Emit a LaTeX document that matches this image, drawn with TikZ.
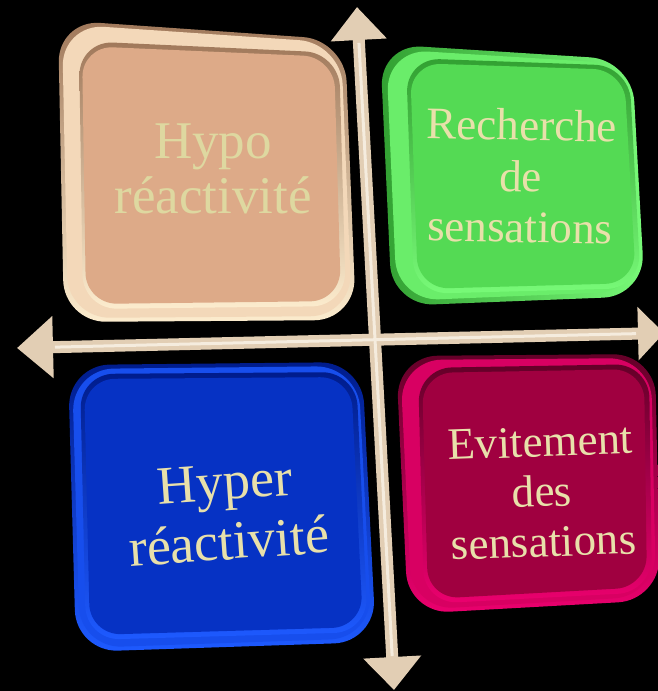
\documentclass[tikz,border=0pt]{standalone}
\usepackage{fontspec}
\setmainfont{Liberation Serif}
\usetikzlibrary{arrows.meta}
\definecolor{tanface}{RGB}{221,170,136}
\definecolor{tanlight}{RGB}{252,236,206}
\definecolor{tandark}{RGB}{160,120,90}
\definecolor{grface}{RGB}{84,218,84}
\definecolor{grlight}{RGB}{120,250,120}
\definecolor{grdark}{RGB}{50,160,50}
\definecolor{blface}{RGB}{6,50,196}
\definecolor{bllight}{RGB}{30,90,255}
\definecolor{bldark}{RGB}{0,28,140}
\definecolor{mgface}{RGB}{160,0,64}
\definecolor{mglight}{RGB}{235,0,110}
\definecolor{mgdark}{RGB}{100,0,40}
\definecolor{txtcol}{RGB}{232,224,170}
\definecolor{tantxt}{RGB}{222,216,160}
\definecolor{axcol}{RGB}{226,206,180}
\definecolor{axlight}{RGB}{245,236,222}
\begin{document}
\begin{tikzpicture}[x=1pt,y=-1pt,
  rim/.style={rounded corners=42pt},
  bevel/.style={rounded corners=34pt},
  face/.style={rounded corners=31pt},
  label/.style={align=center,inner sep=0pt,text=txtcol},
  axis/.style={line width=12pt,draw=axcol},
  axhi/.style={line width=3pt,draw=axlight}]
\useasboundingbox (0,0) rectangle (658,691);
\fill[black] (0,0) rectangle (658,691);
\clip (0,0) rectangle (658,691);
% tan box
\shade[rim,top color=tandark,bottom color=tanlight] (58,20) -- (345,40) -- (356,320) -- (64,322) -- cycle;
\fill[rim,tanlight!70!tanface] (62,24) -- (341,43) -- (352,316) -- (68,318) -- cycle;
\shade[bevel,top color=tandark,bottom color=tanlight] (79,41) -- (339,53) -- (346,306) -- (83,309) -- cycle;
\fill[face,fill=tanface] (82,46) -- (334,57) -- (341,301) -- (86,304) -- cycle;
% green box
\shade[rim,left color=grdark,right color=grlight] (380,44) -- (632,60) -- (645,296) -- (392,306) -- cycle;
\fill[rim,grlight!60!grface] (386,49) -- (628,64) -- (640,291) -- (397,301) -- cycle;
\shade[bevel,top color=grdark,bottom color=grlight] (406,58) -- (629,66) -- (641,288) -- (414,294) -- cycle;
\fill[face,fill=grface] (410,63) -- (624,70) -- (636,283) -- (418,289) -- cycle;
% blue box
\shade[rim,top color=bldark,bottom color=bllight] (68,365) -- (362,362) -- (376,642) -- (76,652) -- cycle;
\fill[rim,bllight!70!blface] (72,369) -- (358,366) -- (372,638) -- (80,648) -- cycle;
\shade[bevel,top color=bldark,bottom color=bllight] (80,374) -- (356,372) -- (368,632) -- (86,640) -- cycle;
\fill[face,fill=blface] (84,379) -- (351,377) -- (363,627) -- (90,635) -- cycle;
% magenta box
\shade[rim,top color=mgdark,bottom color=mglight] (396,356) -- (655,354) -- (660,600) -- (408,614) -- cycle;
\fill[rim,mglight!75!mgface] (400,360) -- (651,358) -- (656,596) -- (412,610) -- cycle;
\shade[bevel,top color=mgdark,bottom color=mglight] (418,368) -- (649,364) -- (652,592) -- (424,604) -- cycle;
\fill[face,fill=mgface] (422,373) -- (644,369) -- (647,587) -- (428,599) -- cycle;
% texts
\node[label,text=tantxt,font=\fontsize{53}{55}\selectfont] (hypo) at (213,169) {Hypo\\réactivité};
\node[label,font=\fontsize{45}{51}\selectfont,rotate=-1] (rech) at (521,176) {Recherche\\de\\sensations};
\node[label,font=\fontsize{54}{60}\selectfont,rotate=4] (hyper) at (227,512) {Hyper\\réactivité};
\node[label,font=\fontsize{45}{50}\selectfont,rotate=2] (evit) at (542,492) {Evitement\\des\\sensations};
% axes
\coordinate (vt) at (357,7);
\coordinate (vb) at (394,690);
\coordinate (hl) at (17,348);
\coordinate (hr) at (664,333);
\draw[axis,{Triangle[width=54pt,length=33pt,fill=axcol]}-{Triangle[width=56pt,length=33pt,fill=axcol]}] (vt) -- (vb);
\draw[axis,{Triangle[width=60pt,length=36pt,fill=axcol]}-{Triangle[width=52pt,length=26pt,fill=axcol]}] (hl) -- (hr);
\draw[axhi,shorten <=36pt,shorten >=34pt] (vt) -- (vb);
\draw[axhi,shorten <=38pt,shorten >=28pt] (hl) -- (hr);
\end{tikzpicture}
\end{document}
